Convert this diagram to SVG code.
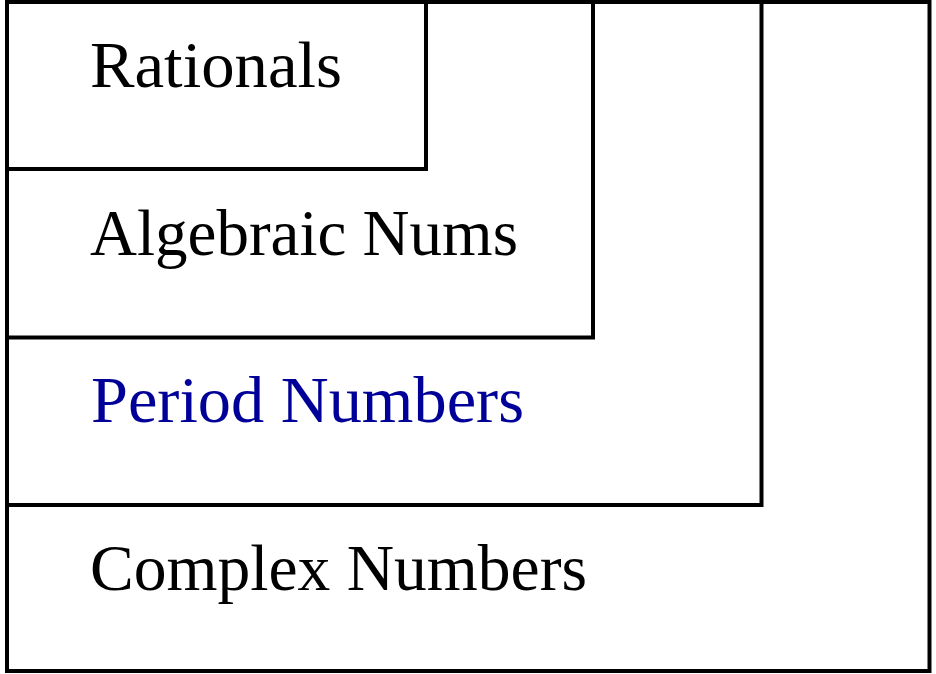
<svg xmlns="http://www.w3.org/2000/svg" width="936" height="674" viewBox="0 0 936 674">
<style>
.box{fill:none;stroke:#000;stroke-width:4;stroke-linejoin:miter}
.lbl{font-family:"Liberation Serif","Times New Roman",serif;font-size:65px;fill:#000}
.blue{fill:#000099}
</style>
<rect width="936" height="674" fill="#fff"/>
<g id="complex">
<rect class="box" x="7" y="2" width="922.5" height="669"/>
<text class="lbl" x="90" y="590" textLength="497" lengthAdjust="spacingAndGlyphs">Complex Numbers</text>
</g>
<g id="period">
<rect class="box" x="7" y="2" width="754.5" height="503"/>
<text class="lbl blue" x="91" y="422" textLength="433" lengthAdjust="spacingAndGlyphs">Period Numbers</text>
</g>
<g id="algebraic">
<rect class="box" x="7" y="2" width="586" height="335.5"/>
<text class="lbl" x="90" y="255" textLength="428" lengthAdjust="spacingAndGlyphs">Algebraic Nums</text>
</g>
<g id="rationals">
<rect class="box" x="7" y="2" width="419" height="167"/>
<text class="lbl" x="90" y="87" textLength="252" lengthAdjust="spacingAndGlyphs">Rationals</text>
</g>
<g id="connectors"></g>
</svg>
